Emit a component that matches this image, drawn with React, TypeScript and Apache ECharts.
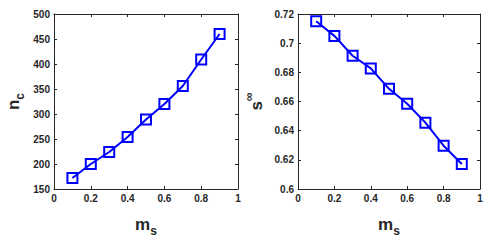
import React, { useEffect, useRef } from "react";
import * as echarts from "echarts";

const ms = [0.1, 0.2, 0.3, 0.4, 0.5, 0.6, 0.7, 0.8, 0.9];
const nc = [172, 200, 224, 254, 289, 320, 356, 409, 460];
const sInf = [0.715, 0.705, 0.6914, 0.6827, 0.6687, 0.6585, 0.6455, 0.6297, 0.6171];

const FONT = "Liberation Sans";
const AX = "#262626";
const BLUE = "#0000ff";

function axisCommon(show: boolean) {
  return {
    axisLine: { show: true, onZero: false, lineStyle: { color: AX, width: 1 } },
    axisTick: { show: true, inside: true, length: 3, lineStyle: { color: AX, width: 1 } },
    axisLabel: {
      show,
      color: AX,
      fontFamily: FONT,
      fontSize: 10,
      fontWeight: "bold" as const,
      margin: 4,
    },
    splitLine: { show: false },
  };
}

export default function App() {
  const ref = useRef<HTMLDivElement>(null);
  useEffect(() => {
    if (!ref.current) return;
    const chart = echarts.init(ref.current, undefined, { renderer: "svg" });
    const nameStyle = {
      fontFamily: FONT,
      fontWeight: "bold" as const,
      color: AX,
      rich: {
        b: { fontFamily: FONT, fontSize: 17, fontWeight: "bold", color: AX, lineHeight: 26, verticalAlign: "middle" },
        sub: { fontFamily: FONT, fontSize: 12, fontWeight: "bold", color: AX, lineHeight: 26, verticalAlign: "bottom" },
        sup: { fontFamily: FONT, fontSize: 12, fontWeight: "bold", color: AX, lineHeight: 26, verticalAlign: "top" },
      },
    };
    const xAxisBase = (gi: number) => ({
      type: "value" as const,
      gridIndex: gi,
      min: 0,
      max: 1,
      interval: 0.2,
      ...axisCommon(true),
      name: "{b|m}{sub|s}",
      nameLocation: "middle" as const,
      nameGap: 22,
      nameTextStyle: nameStyle,
    });
    const xTop = (gi: number) => ({
      type: "value" as const,
      gridIndex: gi,
      position: "top" as const,
      min: 0,
      max: 1,
      interval: 0.2,
      ...axisCommon(false),
    });
    chart.setOption({
      animation: false,
      grid: [
        { left: 54, right: 258, top: 14, bottom: 43 },
        { left: 298, right: 16, top: 14, bottom: 43 },
      ],
      xAxis: [xAxisBase(0), xTop(0), xAxisBase(1), xTop(1)],
      yAxis: [
        {
          type: "value",
          gridIndex: 0,
          min: 150,
          max: 500,
          interval: 50,
          ...axisCommon(true),
          name: "{b|n}{sub|c}",
          nameLocation: "middle",
          nameRotate: 90,
          nameGap: 28,
          nameTextStyle: nameStyle,
        },
        {
          type: "value",
          gridIndex: 0,
          position: "right",
          min: 150,
          max: 500,
          interval: 50,
          ...axisCommon(false),
        },
        {
          type: "value",
          gridIndex: 1,
          min: 0.6,
          max: 0.72,
          interval: 0.02,
          ...axisCommon(true),
          axisLabel: {
            ...axisCommon(true).axisLabel,
            formatter: (v: number) => parseFloat(v.toFixed(2)).toString(),
          },
          name: "{b|s}{sup|∞}",
          nameLocation: "middle",
          nameRotate: 90,
          nameGap: 29,
          nameTextStyle: nameStyle,
        },
        {
          type: "value",
          gridIndex: 1,
          position: "right",
          min: 0.6,
          max: 0.72,
          interval: 0.02,
          ...axisCommon(false),
        },
      ],
      series: [
        {
          type: "line",
          xAxisIndex: 0,
          yAxisIndex: 0,
          data: ms.map((x, i) => [x, nc[i]]),
          symbol: "rect",
          symbolSize: 10,
          showAllSymbol: true,
          lineStyle: { color: BLUE, width: 2 },
          itemStyle: { color: "transparent", borderColor: BLUE, borderWidth: 2 },
        },
        {
          type: "line",
          xAxisIndex: 2,
          yAxisIndex: 2,
          data: ms.map((x, i) => [x, sInf[i]]),
          symbol: "rect",
          symbolSize: 10,
          showAllSymbol: true,
          lineStyle: { color: BLUE, width: 2 },
          itemStyle: { color: "transparent", borderColor: BLUE, borderWidth: 2 },
        },
      ],
    });
    return () => chart.dispose();
  }, []);
  return <div ref={ref} style={{ width: 496, height: 242, position: "absolute", left: 0, top: 0, background: "#fff" }} />;
}
